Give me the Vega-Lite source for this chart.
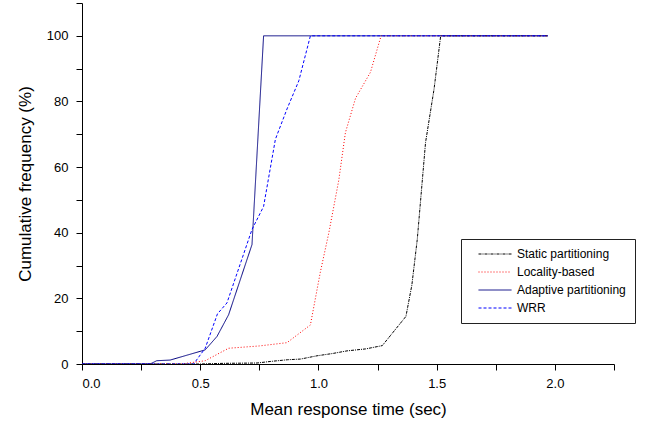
{
  "$schema": "https://vega.github.io/schema/vega-lite/v6.json",
  "autosize": {"type": "none"},
  "width": 532,
  "height": 361,
  "padding": {"left": 82, "top": 3, "right": 39, "bottom": 61},
  "background": "white",
  "data": {
    "values": [
      {"series": "Static partitioning", "t": 0, "f": 0},
      {"series": "Static partitioning", "t": 0.5, "f": 0},
      {"series": "Static partitioning", "t": 0.6, "f": 0.2},
      {"series": "Static partitioning", "t": 0.74, "f": 0.3},
      {"series": "Static partitioning", "t": 0.8, "f": 0.8},
      {"series": "Static partitioning", "t": 0.87, "f": 1.3},
      {"series": "Static partitioning", "t": 0.924, "f": 1.5},
      {"series": "Static partitioning", "t": 0.994, "f": 2.5},
      {"series": "Static partitioning", "t": 1.06, "f": 3.2},
      {"series": "Static partitioning", "t": 1.121, "f": 4.0},
      {"series": "Static partitioning", "t": 1.2, "f": 4.6},
      {"series": "Static partitioning", "t": 1.27, "f": 5.6},
      {"series": "Static partitioning", "t": 1.37, "f": 14.5},
      {"series": "Static partitioning", "t": 1.395, "f": 24},
      {"series": "Static partitioning", "t": 1.418, "f": 38},
      {"series": "Static partitioning", "t": 1.453, "f": 67.5},
      {"series": "Static partitioning", "t": 1.489, "f": 83.8},
      {"series": "Static partitioning", "t": 1.517, "f": 100},
      {"series": "Static partitioning", "t": 1.97, "f": 100},
      {"series": "Locality-based", "t": 0, "f": 0},
      {"series": "Locality-based", "t": 0.42, "f": 0},
      {"series": "Locality-based", "t": 0.521, "f": 1},
      {"series": "Locality-based", "t": 0.62, "f": 4.8},
      {"series": "Locality-based", "t": 0.75, "f": 5.5},
      {"series": "Locality-based", "t": 0.867, "f": 6.5},
      {"series": "Locality-based", "t": 0.966, "f": 11.9},
      {"series": "Locality-based", "t": 1.008, "f": 28},
      {"series": "Locality-based", "t": 1.044, "f": 40},
      {"series": "Locality-based", "t": 1.065, "f": 48},
      {"series": "Locality-based", "t": 1.086, "f": 56},
      {"series": "Locality-based", "t": 1.114, "f": 70.5},
      {"series": "Locality-based", "t": 1.157, "f": 81},
      {"series": "Locality-based", "t": 1.22, "f": 88.9},
      {"series": "Locality-based", "t": 1.265, "f": 100},
      {"series": "Locality-based", "t": 1.97, "f": 100},
      {"series": "Adaptive partitioning", "t": 0, "f": 0},
      {"series": "Adaptive partitioning", "t": 0.288, "f": 0},
      {"series": "Adaptive partitioning", "t": 0.316, "f": 1.0},
      {"series": "Adaptive partitioning", "t": 0.373, "f": 1.2},
      {"series": "Adaptive partitioning", "t": 0.521, "f": 4.3},
      {"series": "Adaptive partitioning", "t": 0.571, "f": 8.4},
      {"series": "Adaptive partitioning", "t": 0.62, "f": 15},
      {"series": "Adaptive partitioning", "t": 0.719, "f": 36.4},
      {"series": "Adaptive partitioning", "t": 0.768, "f": 100},
      {"series": "Adaptive partitioning", "t": 1.97, "f": 100},
      {"series": "WRR", "t": 0, "f": 0},
      {"series": "WRR", "t": 0.472, "f": 0},
      {"series": "WRR", "t": 0.521, "f": 4.8},
      {"series": "WRR", "t": 0.573, "f": 15.3},
      {"series": "WRR", "t": 0.613, "f": 18.6},
      {"series": "WRR", "t": 0.719, "f": 41},
      {"series": "WRR", "t": 0.768, "f": 48},
      {"series": "WRR", "t": 0.818, "f": 68.5},
      {"series": "WRR", "t": 0.867, "f": 77.7},
      {"series": "WRR", "t": 0.917, "f": 86.3},
      {"series": "WRR", "t": 0.966, "f": 100},
      {"series": "WRR", "t": 1.97, "f": 100}
    ]
  },
  "mark": {"type": "line", "strokeWidth": 1, "clip": true},
  "encoding": {
    "x": {
      "field": "t",
      "type": "quantitative",
      "title": "Mean response time (sec)",
      "scale": {"domain": [0, 2.25], "nice": false, "zero": false},
      "axis": {
        "values": [0, 0.25, 0.5, 0.75, 1, 1.25, 1.5, 1.75, 2, 2.25],
        "format": ".1f",
        "labelExpr": "datum.value % 0.5 == 0 ? datum.label : ''",
        "titlePadding": 11,
        "labelPadding": 7
      }
    },
    "y": {
      "field": "f",
      "type": "quantitative",
      "title": "Cumulative frequency (%)",
      "scale": {"domain": [0, 110], "nice": false},
      "axis": {
        "values": [0, 10, 20, 30, 40, 50, 60, 70, 80, 90, 100, 110],
        "labelExpr": "datum.value % 20 == 0 ? datum.label : ''",
        "titlePadding": 12,
        "labelPadding": 8
      }
    },
    "color": {
      "field": "series",
      "type": "nominal",
      "scale": {
        "domain": ["Static partitioning", "Locality-based", "Adaptive partitioning", "WRR"],
        "range": ["#000000", "#ff0000", "#000080", "#0000ff"]
      },
      "legend": {"title": null}
    },
    "strokeDash": {
      "field": "series",
      "type": "nominal",
      "scale": {
        "domain": ["Static partitioning", "Locality-based", "Adaptive partitioning", "WRR"],
        "range": [[3, 1, 1, 1], [1, 2], [1, 0], [3, 2]]
      },
      "legend": {"title": null}
    }
  },
  "config": {
    "view": {"stroke": null},
    "font": "Liberation Sans",
    "axis": {
      "grid": false,
      "domainColor": "#000000",
      "domainWidth": 1,
      "tickColor": "#000000",
      "tickSize": 6,
      "tickWidth": 1,
      "labelColor": "#000000",
      "labelFont": "Liberation Sans",
      "labelFontSize": 13,
      "titleColor": "#000000",
      "titleFont": "Liberation Sans",
      "titleFontSize": 17,
      "titleFontWeight": "normal"
    },
    "legend": {
      "orient": "none",
      "legendX": 379,
      "legendY": 236,
      "padding": 9,
      "strokeColor": "#222222",
      "fillColor": "#ffffff",
      "symbolType": "stroke",
      "symbolSize": 1089,
      "symbolStrokeWidth": 1,
      "clipHeight": 12,
      "rowPadding": 6,
      "symbolOffset": 8,
      "labelOffset": 5,
      "labelFont": "Liberation Sans",
      "labelFontSize": 12,
      "labelColor": "#000000",
      "labelExpr": "datum.label + '\u00a0\u00a0\u00a0\u00a0\u00a0\u00a0\u00a0\u00a0\u00a0\u00a0\u00a0'"
    }
  }
}
